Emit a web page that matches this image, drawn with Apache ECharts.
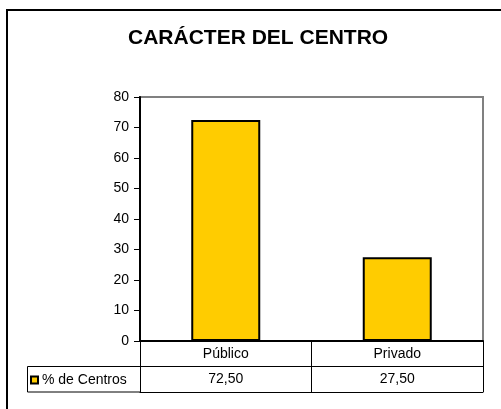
<!DOCTYPE html>
<html>
<head>
	<meta charset="utf-8" />
	<title>Carácter del centro</title>
	<script type="text/javascript" src="https://cdn.jsdelivr.net/npm/echarts@6/dist/echarts.min.js"></script>
	<style>
		html, body {margin:0;padding:0;background:#fff;overflow:hidden;}
		#chart {width:501px;height:409px;}
	</style>
</head>
<body>
	<div id="chart"></div>

	<script>
		var titulo = 'CARÁCTER DEL CENTRO';
		var categorias = ['Público', 'Privado'];
		var porcentajes = [72.5, 27.5];
		var serieNombre = '% de Centros';
		var ejeY = {min: 0, max: 80, interval: 10};
		var filas = ['categoria', 'valor'];

		var fuente = '"Liberation Sans", Arial, sans-serif';

		// valores con coma decimal para la tabla
		var textoValores = porcentajes.map(v => v.toFixed(2).replace('.', ','));

		var chart = echarts.init(document.getElementById('chart'));

		var option = {
			backgroundColor: '#fff',
			animation: false,
			textStyle: {fontFamily: fuente, color: '#000'},
			title: {
				text: titulo,
				left: 123,
				top: 23,
				textStyle: {fontFamily: fuente, fontSize: 21, fontWeight: 'bold', color: '#000'}
			},
			legend: {
				data: [serieNombre],
				left: 30,
				top: 373,
				padding: 0,
				icon: 'rect',
				itemWidth: 7,
				itemHeight: 7,
				itemStyle: {borderColor: '#000', borderWidth: 2},
				textStyle: {fontFamily: fuente, fontSize: 14, color: '#000', padding: [0, 0, 0, -1]}
			},
			grid: [
				{left: 140, right: 18, top: 97, height: 244, show: true, borderColor: '#808080', borderWidth: 2, backgroundColor: 'transparent'},
				{left: 140, right: 18, top: 341, height: 51}
			],
			xAxis: [
				{
					type: 'category', gridIndex: 0, data: categorias,
					axisLine: {lineStyle: {color: '#000', width: 2}},
					axisTick: {show: false},
					axisLabel: {fontFamily: fuente, fontSize: 14, color: '#000', margin: 6},
					z: 5
				},
				{
					type: 'category', gridIndex: 1, data: textoValores, position: 'bottom',
					axisLine: {lineStyle: {color: '#000', width: 1}},
					axisTick: {show: false},
					axisLabel: {fontFamily: fuente, fontSize: 14, color: '#000', inside: true, margin: 6},
					splitLine: {show: true, interval: 0, lineStyle: {color: '#000', width: 1}}
				}
			],
			yAxis: [
				{
					type: 'value', gridIndex: 0,
					min: ejeY.min, max: ejeY.max, interval: ejeY.interval,
					axisLine: {show: true, lineStyle: {color: '#000', width: 2}},
					axisTick: {show: true, length: 6, lineStyle: {color: '#000', width: 1}},
					axisLabel: {fontFamily: fuente, fontSize: 14, color: '#000', margin: 11},
					splitLine: {show: false},
					z: 5
				},
				{
					type: 'category', gridIndex: 1, data: filas, inverse: true,
					axisLine: {show: false},
					axisTick: {show: false},
					axisLabel: {show: false},
					splitLine: {show: true, interval: 0, lineStyle: {color: '#000', width: 1}}
				}
			],
			series: [
				{
					name: serieNombre,
					type: 'bar',
					xAxisIndex: 0,
					yAxisIndex: 0,
					barWidth: 69,
					data: porcentajes,
					itemStyle: {color: '#FFCC00', borderColor: '#000', borderWidth: 2}
				}
			],
			graphic: [
				// marco exterior (solo lados superior e izquierdo visibles)
				{type: 'polyline', shape: {points: [[7, 420], [7, 10], [520, 10]]}, style: {fill: 'none', stroke: '#000', lineWidth: 2}, silent: true},
				// celda de la leyenda en la tabla
				{type: 'rect', shape: {x: 27.5, y: 366.5, width: 113, height: 25.5}, style: {fill: 'none', stroke: '#000', lineWidth: 1}, silent: true}
			]
		};

		chart.setOption(option);
	</script>
</body>
</html>
